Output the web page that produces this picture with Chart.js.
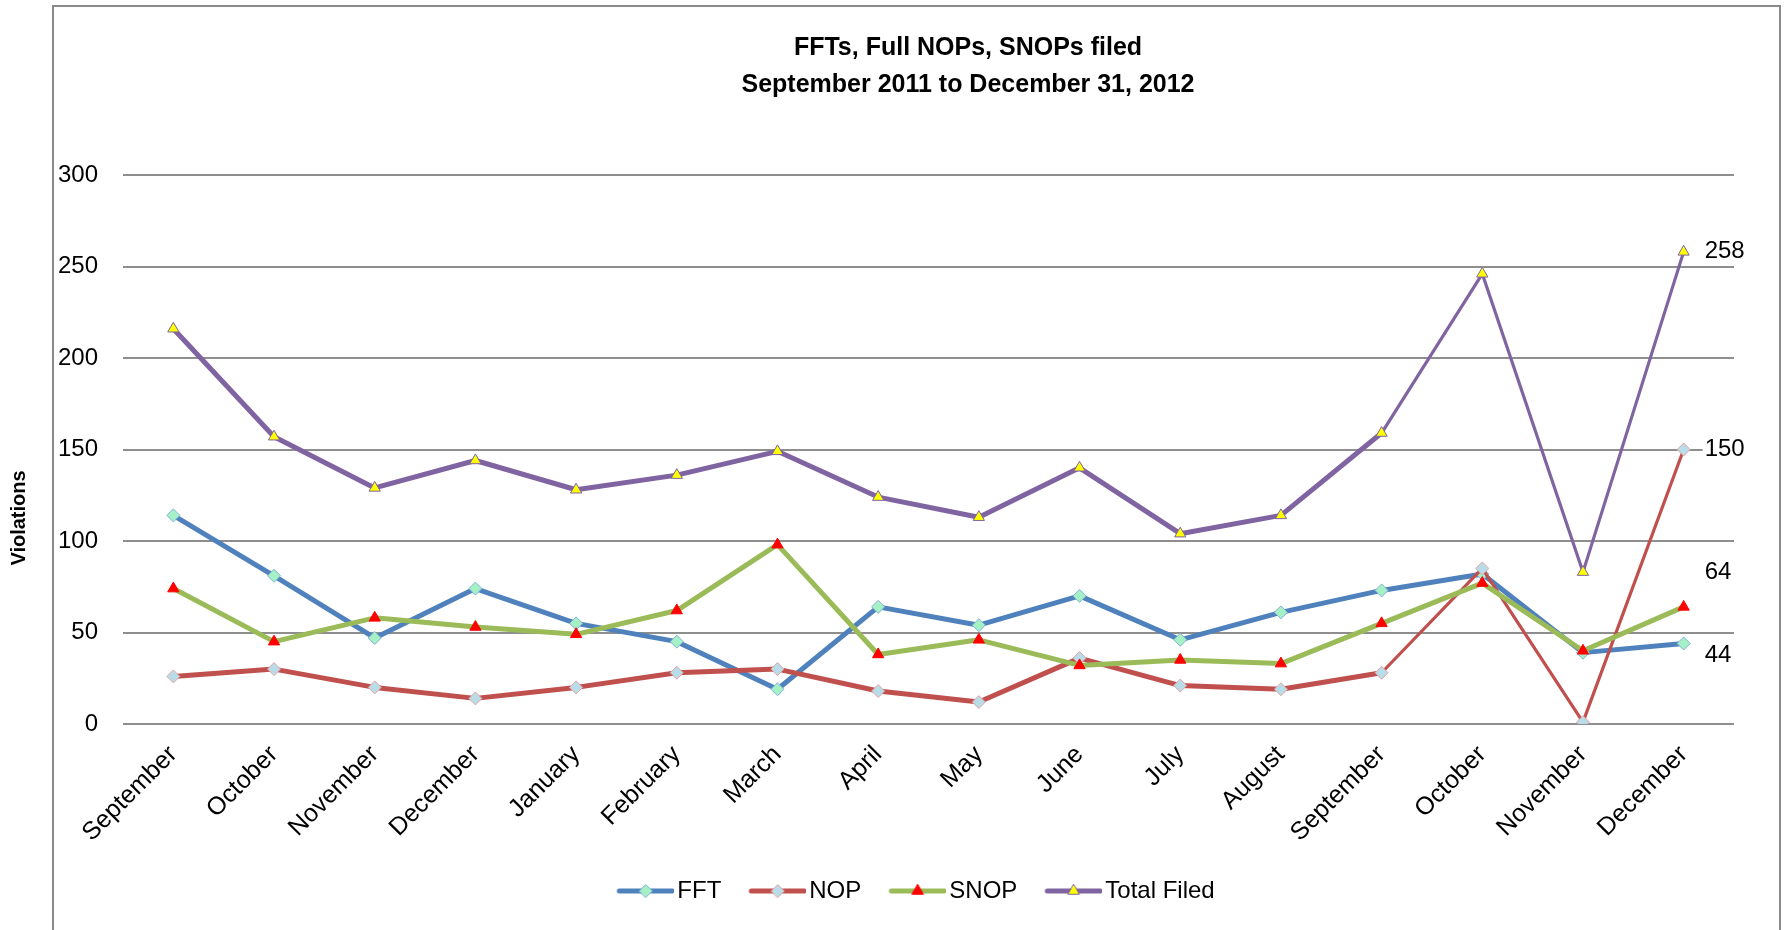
<!DOCTYPE html>
<html>
<head>
<meta charset="utf-8">
<title>FFTs, Full NOPs, SNOPs filed</title>
<script src="https://cdn.jsdelivr.net/npm/chart.js@4/dist/chart.umd.min.js"></script>
<style>
  html, body { margin: 0; padding: 0; background: #fff; }
</style>
</head>
<body>
<canvas id="chart" width="1785" height="930"></canvas>
<script>
// Months from September 2011 to December 2012
const months = ['September', 'October', 'November', 'December', 'January', 'February', 'March',
                'April', 'May', 'June', 'July', 'August', 'September', 'October', 'November', 'December'];

// Values
const fft = [114, 81, 47, 74, 55, 45, 19, 64, 54, 70, 46, 61, 73, 82, 39, 44];
const nop = [26, 30, 20, 14, 20, 28, 30, 18, 12, 36, 21, 19, 28, 85, 1, 150];
const snop = [74, 45, 58, 53, 49, 62, 98, 38, 46, 32, 35, 33, 55, 77, 40, 64];
const totalFiled = [216, 157, 129, 144, 128, 136, 149, 124, 113, 140, 104, 114, 159, 246, 83, 258];

const yTicks = [0, 50, 100, 150, 200, 250, 300];

const FONT = "'Liberation Sans', Arial, sans-serif";
Chart.defaults.font.family = FONT;
Chart.defaults.color = '#000';

// Excel drew Total and NOP thinner from September 2012 on
const thinFrom = 12;
const thinSegment = { borderWidth: ctx => ctx.p0DataIndex >= thinFrom ? 3.2 : 5 };

// legend icon: line with the marker in the middle, like Excel
function legendIcon(color, style, fill, stroke) {
    const c = document.createElement('canvas');
    c.width = 84;
    c.height = 18;
    const g = c.getContext('2d');
    g.strokeStyle = color;
    g.lineWidth = 5;
    g.lineCap = 'round';
    g.beginPath();
    g.moveTo(29, 9);
    g.lineTo(82, 9);
    g.stroke();
    g.fillStyle = fill;
    g.strokeStyle = stroke;
    g.lineWidth = 1;
    Chart.helpers.drawPoint(g, { pointStyle: style, radius: 6.5, rotation: 0, borderWidth: 1 }, 55.5, 9);
    return c;
}

const series = [
    { label: 'FFT', data: fft, color: '#4f81bd', style: 'rectRot', fill: '#a6f0c6', stroke: '#7fb2d9', order: 3 },
    { label: 'NOP', data: nop, color: '#c0504d', style: 'rectRot', fill: '#b9dde8', stroke: '#e3a3a3', order: 2, thin: true },
    { label: 'SNOP', data: snop, color: '#9bbb59', style: 'triangle', fill: '#ff0000', stroke: '#ff0000', order: 1 },
    { label: 'Total Filed', data: totalFiled, color: '#8064a2', style: 'triangle', fill: '#ffff00', stroke: '#8064a2', order: 0, thin: true }
];

const legendIcons = series.map(s => legendIcon(s.color, s.style, s.fill, s.stroke));

const datasets = series.map(s => ({
    label: s.label,
    data: s.data,
    order: s.order,
    borderColor: s.color,
    borderWidth: 5,
    borderJoinStyle: 'round',
    borderCapStyle: 'round',
    tension: 0,
    pointStyle: s.style,
    pointRadius: 6.5,
    pointHoverRadius: 6.5,
    pointBorderWidth: 1,
    pointBackgroundColor: s.fill,
    pointBorderColor: s.stroke,
    segment: s.thin ? thinSegment : undefined
}));

// frame around the chart and the axis title, which Excel centres on the frame
const framePlugin = {
    id: 'frame',
    beforeDraw(chart) {
        const ctx = chart.ctx;
        ctx.save();
        ctx.fillStyle = '#fff';
        ctx.fillRect(0, 0, chart.width, chart.height);
        ctx.strokeStyle = '#8a8a8a';
        ctx.lineWidth = 2;
        ctx.strokeRect(53, 6, 1727, 940);
        ctx.translate(19, 518);
        ctx.rotate(-Math.PI / 2);
        ctx.font = 'bold 20px ' + FONT;
        ctx.fillStyle = '#000';
        ctx.textAlign = 'center';
        ctx.textBaseline = 'middle';
        ctx.fillText('Violations', 0, 0);
        ctx.restore();
    }
};

// Excel centres title and legend on the plot, not the whole canvas
const shiftPlugin = {
    id: 'shift',
    afterLayout(chart, args, opts) {
        chart.titleBlock.left += opts.title;
        chart.titleBlock.right += opts.title;
        chart.legend.left += opts.legend;
        chart.legend.right += opts.legend;
    }
};

// value labels on the last point of each series (white box hides the gridline)
const endLabelPlugin = {
    id: 'endLabels',
    afterDatasetsDraw(chart, args, opts) {
        const ctx = chart.ctx;
        ctx.save();
        ctx.font = '24px ' + FONT;
        ctx.textAlign = 'left';
        ctx.textBaseline = 'middle';
        chart.data.datasets.forEach((ds, i) => {
            const meta = chart.getDatasetMeta(i);
            const pt = meta.data[meta.data.length - 1];
            const txt = String(ds.data[ds.data.length - 1]);
            const x = pt.x + opts.dx;
            const y = pt.y + opts.dy[i];
            const w = ctx.measureText(txt).width;
            ctx.fillStyle = '#fff';
            ctx.fillRect(x - 2, y - 13, w + 4, 26);
            ctx.fillStyle = '#000';
            ctx.fillText(txt, x, y);
        });
        ctx.restore();
    }
};

new Chart(document.getElementById('chart'), {
    type: 'line',
    data: { labels: months, datasets: datasets },
    options: {
        responsive: false,
        animation: false,
        layout: { padding: { left: 0, right: 51, top: 0, bottom: 17 } },
        scales: {
            x: {
                offset: true,
                grid: { display: false, offset: true },
                border: { display: false },
                ticks: {
                    autoSkip: false,
                    maxRotation: 45,
                    minRotation: 45,
                    padding: 8,
                    font: { size: 25 },
                    color: '#000'
                },
                afterFit(scale) { scale.height = 145; }
            },
            y: {
                min: 0,
                max: 300,
                afterBuildTicks(scale) { scale.ticks = yTicks.map(v => ({ value: v })); },
                grid: { color: '#8e8e8e', lineWidth: 2, drawTicks: false },
                border: { display: false },
                ticks: {
                    padding: 25,
                    crossAlign: 'near',
                    font: { size: 24 },
                    color: '#000'
                },
                afterFit(scale) { scale.width = 123; }
            }
        },
        plugins: {
            title: {
                display: true,
                text: ['FFTs, Full NOPs, SNOPs filed', 'September 2011 to December 31, 2012'],
                font: { size: 25, weight: 'bold', lineHeight: 1.5 },
                color: '#000',
                padding: { top: 29, bottom: 71 }
            },
            legend: {
                position: 'bottom',
                labels: {
                    usePointStyle: true,
                    pointStyleWidth: 66,
                    padding: 10,
                    font: { size: 24 },
                    color: '#000',
                    generateLabels(chart) {
                        const items = Chart.defaults.plugins.legend.labels.generateLabels(chart);
                        items.sort((a, b) => a.datasetIndex - b.datasetIndex);
                        items.forEach(it => { it.pointStyle = legendIcons[it.datasetIndex]; });
                        return items;
                    }
                }
            },
            tooltip: { enabled: false },
            shift: { title: 101, legend: 40 },
            endLabels: { dx: 21, dy: [12, 0, -35, 0] }
        }
    },
    plugins: [framePlugin, shiftPlugin, endLabelPlugin]
});
</script>
</body>
</html>
